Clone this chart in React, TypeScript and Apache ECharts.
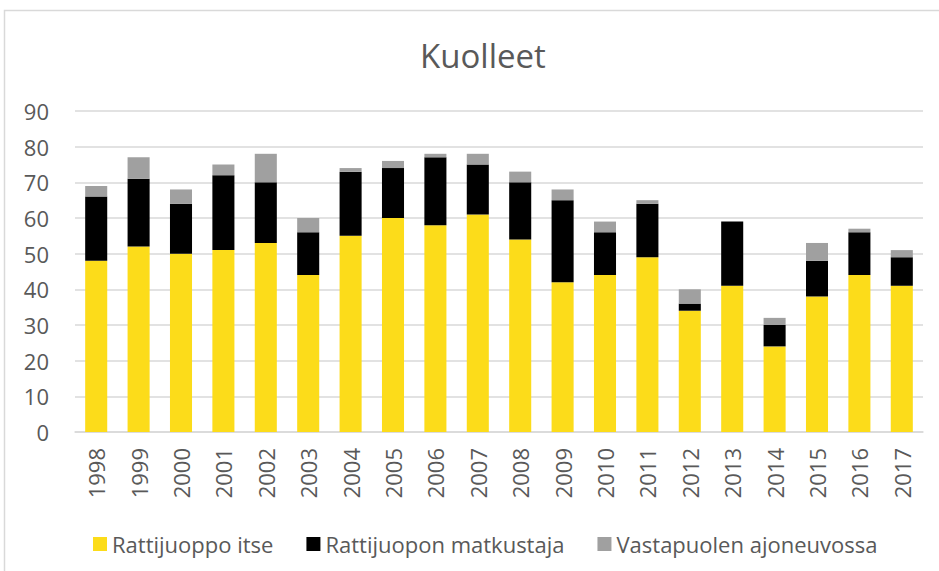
import React, { useEffect, useRef } from "react";
import * as echarts from "echarts";

const years = ["1998","1999","2000","2001","2002","2003","2004","2005","2006","2007","2008","2009","2010","2011","2012","2013","2014","2015","2016","2017"];
const rattijuoppoItse = [48,52,50,51,53,44,55,60,58,61,54,42,44,49,34,41,24,38,44,41];
const matkustaja = [18,19,14,21,17,12,18,14,19,14,16,23,12,15,2,18,6,10,12,8];
const vastapuoli = [3,6,4,3,8,4,1,2,1,3,3,3,3,1,4,0,2,5,1,2];
const seriesNames = ["Rattijuoppo itse", "Rattijuopon matkustaja", "Vastapuolen ajoneuvossa"];

const FONT = "'Open Sans', 'Noto Sans', sans-serif";
const TXT = "#595959";

export default function App() {
  const ref = useRef<HTMLDivElement>(null);
  useEffect(() => {
    if (!ref.current) return;
    const chart = echarts.init(ref.current, null, { renderer: "svg" });
    chart.setOption({
      animation: false,
      backgroundColor: "#ffffff",
      title: {
        text: "Kuolleet",
        left: 415,
        top: 34,
        textStyle: { fontFamily: FONT, fontSize: 33, fontWeight: "normal", color: TXT },
      },
      graphic: [
        {
          type: "rect",
          shape: { x: 4.5, y: 10.5, width: 1000, height: 1000 },
          style: { fill: "none", stroke: "#d9d9d9", lineWidth: 1.5 },
          silent: true,
        },
      ],
      legend: {
        left: 88,
        top: 528,
        itemWidth: 14,
        itemHeight: 14,
        itemGap: 33,
        icon: "rect",
        textStyle: { fontFamily: FONT, fontSize: 22, color: TXT },
        data: seriesNames,
      },
      grid: { left: 75, right: 16, top: 111, bottom: 139, containLabel: false },
      xAxis: {
        type: "category",
        data: years,
        axisLine: { lineStyle: { color: "#d9d9d9", width: 1.5 } },
        axisTick: { show: false },
        axisLabel: { rotate: 90, fontFamily: FONT, fontSize: 22, color: TXT, margin: 16 },
      },
      yAxis: {
        type: "value",
        min: 0,
        max: 90,
        interval: 10,
        axisLine: { show: false },
        axisTick: { show: false },
        axisLabel: { fontFamily: FONT, fontSize: 22, color: TXT, margin: 26 },
        splitLine: { lineStyle: { color: "#d9d9d9", width: 1.5 } },
      },
      series: [
        { name: seriesNames[0], type: "bar", stack: "a", data: rattijuoppoItse, barCategoryGap: "48%", itemStyle: { color: "#FCDC1A" } },
        { name: seriesNames[1], type: "bar", stack: "a", data: matkustaja, barCategoryGap: "48%", itemStyle: { color: "#000000" } },
        { name: seriesNames[2], type: "bar", stack: "a", data: vastapuoli, barCategoryGap: "48%", itemStyle: { color: "#A0A0A0" } },
      ],
    });
    return () => chart.dispose();
  }, []);
  return <div ref={ref} style={{ position: "absolute", left: 0, top: 0, width: 939, height: 571 }} />;
}
